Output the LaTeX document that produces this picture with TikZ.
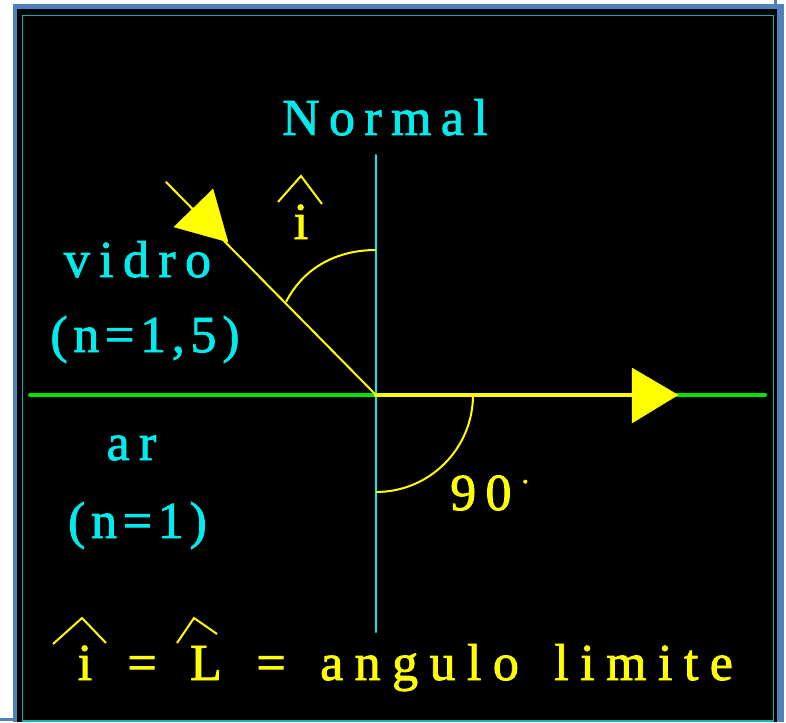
\documentclass[tikz,border=0pt]{standalone}
\usepackage{fontspec}
\usepackage{tkz-euclide}
\usetikzlibrary{calc}
\newfontfamily\cadfont[LetterSpace=18,FakeBold=1.6]{Liberation Serif}
\newfontfamily\cadnarrow[LetterSpace=11,FakeBold=1.6]{Liberation Serif}
\newfontfamily\cadwide[LetterSpace=22,FakeBold=1.6]{Liberation Serif}
\definecolor{FrameClr}{RGB}{79,129,189}
\definecolor{BorderClr}{RGB}{20,175,175}
\definecolor{NormalClr}{RGB}{0,235,235}
\definecolor{RayClr}{RGB}{255,255,0}
\definecolor{SurfClr}{RGB}{0,228,0}

\begin{document}
\begin{tikzpicture}[x=1pt,y=-1pt,
  cadtxt/.style={inner sep=0pt,anchor=base,font=\cadfont\fontsize{52}{52}\selectfont},
  cadnar/.style={cadtxt,font=\cadnarrow\fontsize{52}{52}\selectfont},
  cadwid/.style={cadtxt,font=\cadwide\fontsize{52}{52}\selectfont},
  hatmark/.style={RayClr,line width=2pt,line join=miter}]
% background and frame
\useasboundingbox (0,0) rectangle (786,722);
\fill[white] (0,0) rectangle (786,722);
\fill[FrameClr] (12.5,4.5) rectangle (784,722);
\draw[FrameClr,line width=3pt] (0,719.5) -- (13,719.5);
\draw[FrameClr,line width=3pt] (775,0) -- (775,5);
\fill[black] (16.5,9) rectangle (777,722);
\draw[BorderClr,line width=1.5pt] (22.5,15.5) rectangle (773.5,721);

\tkzDefPoints{376/395/O,166/182/S,30/395/W,765/395/E,376/155/N,376/632/Q,632/395/R}
\tkzDefPoints{228/242/Ta,213/189/Tb,174/227/Tc,678/395/Ua,632/368/Ub,632/423/Uc}

% normal, surface, rays
\tkzDrawSegments[line width=2pt,color=NormalClr](N,Q)
\tkzDrawSegments[line width=4pt,color=SurfClr](W,E)
\tkzDrawSegments[line width=4.5pt,color=RayClr](O,R)
\tkzDrawSegments[line width=2pt,color=RayClr](S,O)
\tkzFillPolygon[fill=RayClr,draw=RayClr](Ta,Tb,Tc)
\tkzFillPolygon[fill=RayClr,draw=RayClr](Ua,Ub,Uc)

% angles
\draw[RayClr,line width=2pt] (376,250) .. controls (340,250) and (305,265) .. (286,302);
\draw[RayClr,line width=2pt] ($(O)+(97,0)$) arc[start angle=0,end angle=90,radius=97];

% labels
\node[cadtxt,NormalClr] (normal) at (385,135) {Normal};
\node[cadtxt,NormalClr] (vidro) at (137.5,277) {vidro};
\node[cadnar,NormalClr] (nvidro) at (145,352) {(n=1,5)};
\node[cadtxt,NormalClr] (ar) at (131.5,460) {ar};
\node[cadnar,NormalClr] (nar) at (137.5,538) {(n=1)};
\node[cadtxt,RayClr,anchor=base west] (ninety) at (450,510) {90\hspace{10pt}\raisebox{27pt}{\fontsize{30}{30}\selectfont .}};

\node[cadtxt,RayClr] (ilbl) at (301,239) {i};
\draw[hatmark] ([shift={(-23,-37)}]ilbl.base) -- ++(23,-26) -- ++(21,28);

\node[cadtxt,RayClr] (ibot) at (85,680) {i};
\node[cadtxt,RayClr] (eqa) at (142,680) {=};
\node[cadtxt,RayClr] (lbot) at (206,680) {L};
\node[cadtxt,RayClr] (eqb) at (271,680) {=};
\node[cadwid,RayClr,anchor=base west] (limite) at (320,680) {angulo\hspace{11pt} limite};
\draw[hatmark] ([shift={(-32,-36)}]ibot.base) -- ++(29,-26) -- ++(24,25);
\draw[hatmark] ([shift={(-29,-37)}]lbot.base) -- ++(17,-25) -- ++(23,16);
\end{tikzpicture}
\end{document}
